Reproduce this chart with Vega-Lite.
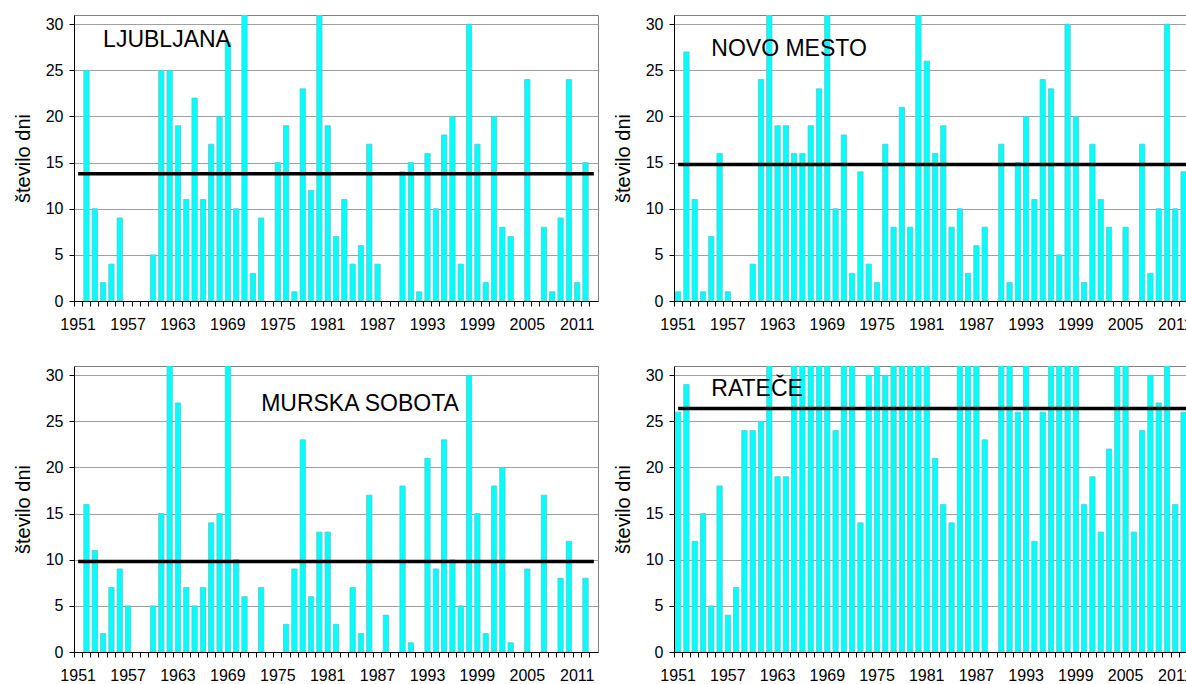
{
  "$schema": "https://vega.github.io/schema/vega-lite/v6.json",
  "usermeta": {"embedOptions": {"actions": false}},
  "background": "white",
  "padding": {"left": 12, "top": 14, "right": 0, "bottom": 0},
  "config": {
    "font": "Liberation Sans",
    "view": {"stroke": "#808080", "strokeWidth": 1},
    "axis": {
      "labelFont": "Liberation Sans", "labelFontSize": 16, "labelColor": "#000000",
      "titleFont": "Liberation Sans", "titleFontSize": 20, "titleFontWeight": "normal", "titleColor": "#000000",
      "domainColor": "#000000", "tickColor": "#000000", "tickSize": 5, "gridColor": "#a0a0a0"
    },
    "axisX": {"grid": false, "labelAngle": 0, "labelPadding": 10, "labelOverlap": false,
      "values": [1951,1954,1957,1960,1963,1966,1969,1972,1975,1978,1981,1984,1987,1990,1993,1996,1999,2002,2005,2008,2011],
      "labelExpr": "(datum.value - 1951) % 6 == 0 ? datum.label : ''", "bandPosition": -0.28},
    "axisY": {"grid": true, "values": [0,5,10,15,20,25,30], "labelPadding": 6, "titlePadding": 12}
  },
  "datasets": {
    "info": [
      {"station": "LJUBLJANA", "mean": 13.8, "start": 1951, "end": 2013, "lx": 1954, "ly": 27.56},
      {"station": "NOVO MESTO", "mean": 14.8, "start": 1951, "end": 2013, "lx": 1955, "ly": 26.55},
      {"station": "MURSKA SOBOTA", "mean": 9.8, "start": 1951, "end": 2013, "lx": 1973, "ly": 26.15},
      {"station": "RATEČE", "mean": 26.4, "start": 1951, "end": 2013, "lx": 1955, "ly": 27.7}
    ],
    "lj": [
      {"year":1952,"days":25},{"year":1953,"days":10},{"year":1954,"days":2},{"year":1955,"days":4},{"year":1956,"days":9},
      {"year":1960,"days":5},{"year":1961,"days":25},{"year":1962,"days":25},{"year":1963,"days":19},{"year":1964,"days":11},
      {"year":1965,"days":22},{"year":1966,"days":11},{"year":1967,"days":17},{"year":1968,"days":20},{"year":1969,"days":28},
      {"year":1970,"days":10},{"year":1971,"days":31},{"year":1972,"days":3},{"year":1973,"days":9},{"year":1975,"days":15},
      {"year":1976,"days":19},{"year":1977,"days":1},{"year":1978,"days":23},{"year":1979,"days":12},{"year":1980,"days":31},
      {"year":1981,"days":19},{"year":1982,"days":7},{"year":1983,"days":11},{"year":1984,"days":4},{"year":1985,"days":6},
      {"year":1986,"days":17},{"year":1987,"days":4},{"year":1990,"days":14},{"year":1991,"days":15},{"year":1992,"days":1},
      {"year":1993,"days":16},{"year":1994,"days":10},{"year":1995,"days":18},{"year":1996,"days":20},{"year":1997,"days":4},
      {"year":1998,"days":30},{"year":1999,"days":17},{"year":2000,"days":2},{"year":2001,"days":20},{"year":2002,"days":8},
      {"year":2003,"days":7},{"year":2005,"days":24},{"year":2007,"days":8},{"year":2008,"days":1},{"year":2009,"days":9},
      {"year":2010,"days":24},{"year":2011,"days":2},{"year":2012,"days":15}
    ],
    "nm": [
      {"year":1951,"days":1},{"year":1952,"days":27},{"year":1953,"days":11},{"year":1954,"days":1},{"year":1955,"days":7},
      {"year":1956,"days":16},{"year":1957,"days":1},{"year":1960,"days":4},{"year":1961,"days":24},{"year":1962,"days":31},
      {"year":1963,"days":19},{"year":1964,"days":19},{"year":1965,"days":16},{"year":1966,"days":16},{"year":1967,"days":19},
      {"year":1968,"days":23},{"year":1969,"days":31},{"year":1970,"days":10},{"year":1971,"days":18},{"year":1972,"days":3},
      {"year":1973,"days":14},{"year":1974,"days":4},{"year":1975,"days":2},{"year":1976,"days":17},{"year":1977,"days":8},
      {"year":1978,"days":21},{"year":1979,"days":8},{"year":1980,"days":31},{"year":1981,"days":26},{"year":1982,"days":16},
      {"year":1983,"days":19},{"year":1984,"days":8},{"year":1985,"days":10},{"year":1986,"days":3},{"year":1987,"days":6},
      {"year":1988,"days":8},{"year":1990,"days":17},{"year":1991,"days":2},{"year":1992,"days":15},{"year":1993,"days":20},
      {"year":1994,"days":11},{"year":1995,"days":24},{"year":1996,"days":23},{"year":1997,"days":5},{"year":1998,"days":30},
      {"year":1999,"days":20},{"year":2000,"days":2},{"year":2001,"days":17},{"year":2002,"days":11},{"year":2003,"days":8},
      {"year":2005,"days":8},{"year":2007,"days":17},{"year":2008,"days":3},{"year":2009,"days":10},{"year":2010,"days":30},
      {"year":2011,"days":10},{"year":2012,"days":14}
    ],
    "ms": [
      {"year":1952,"days":16},{"year":1953,"days":11},{"year":1954,"days":2},{"year":1955,"days":7},{"year":1956,"days":9},
      {"year":1957,"days":5},{"year":1960,"days":5},{"year":1961,"days":15},{"year":1962,"days":31},{"year":1963,"days":27},
      {"year":1964,"days":7},{"year":1965,"days":5},{"year":1966,"days":7},{"year":1967,"days":14},{"year":1968,"days":15},
      {"year":1969,"days":31},{"year":1970,"days":10},{"year":1971,"days":6},{"year":1973,"days":7},{"year":1976,"days":3},
      {"year":1977,"days":9},{"year":1978,"days":23},{"year":1979,"days":6},{"year":1980,"days":13},{"year":1981,"days":13},
      {"year":1982,"days":3},{"year":1984,"days":7},{"year":1985,"days":2},{"year":1986,"days":17},{"year":1988,"days":4},
      {"year":1990,"days":18},{"year":1991,"days":1},{"year":1993,"days":21},{"year":1994,"days":9},{"year":1995,"days":23},
      {"year":1996,"days":10},{"year":1997,"days":5},{"year":1998,"days":30},{"year":1999,"days":15},{"year":2000,"days":2},
      {"year":2001,"days":18},{"year":2002,"days":20},{"year":2003,"days":1},{"year":2005,"days":9},{"year":2007,"days":17},
      {"year":2009,"days":8},{"year":2010,"days":12},{"year":2012,"days":8}
    ],
    "ra": [
      {"year":1951,"days":26},{"year":1952,"days":29},{"year":1953,"days":12},{"year":1954,"days":15},{"year":1955,"days":5},
      {"year":1956,"days":18},{"year":1957,"days":4},{"year":1958,"days":7},{"year":1959,"days":24},{"year":1960,"days":24},
      {"year":1961,"days":25},{"year":1962,"days":31},{"year":1963,"days":19},{"year":1964,"days":19},{"year":1965,"days":31},
      {"year":1966,"days":31},{"year":1967,"days":31},{"year":1968,"days":31},{"year":1969,"days":31},{"year":1970,"days":24},
      {"year":1971,"days":31},{"year":1972,"days":31},{"year":1973,"days":14},{"year":1974,"days":30},{"year":1975,"days":31},
      {"year":1976,"days":30},{"year":1977,"days":31},{"year":1978,"days":31},{"year":1979,"days":31},{"year":1980,"days":31},
      {"year":1981,"days":31},{"year":1982,"days":21},{"year":1983,"days":16},{"year":1984,"days":14},{"year":1985,"days":31},
      {"year":1986,"days":31},{"year":1987,"days":31},{"year":1988,"days":23},{"year":1990,"days":31},{"year":1991,"days":31},
      {"year":1992,"days":26},{"year":1993,"days":31},{"year":1994,"days":12},{"year":1995,"days":26},{"year":1996,"days":31},
      {"year":1997,"days":31},{"year":1998,"days":31},{"year":1999,"days":31},{"year":2000,"days":16},{"year":2001,"days":19},
      {"year":2002,"days":13},{"year":2003,"days":22},{"year":2004,"days":31},{"year":2005,"days":31},{"year":2006,"days":13},
      {"year":2007,"days":24},{"year":2008,"days":30},{"year":2009,"days":27},{"year":2010,"days":31},{"year":2011,"days":16},
      {"year":2012,"days":26}
    ]
  },
  "columns": 2,
  "bounds": "flush",
  "spacing": {"row": 65, "column": 76},
  "concat": [
    {
      "width": 524, "height": 286,
      "layer": [
        {"data": {"name": "lj"},
         "mark": {"type": "bar", "fill": "#00FFFF", "stroke": "#5cc8c8", "strokeWidth": 0.8, "clip": true},
         "encoding": {
           "x": {"field": "year", "type": "ordinal", "title": null, "scale": {"domain": [1951,1952,1953,1954,1955,1956,1957,1958,1959,1960,1961,1962,1963,1964,1965,1966,1967,1968,1969,1970,1971,1972,1973,1974,1975,1976,1977,1978,1979,1980,1981,1982,1983,1984,1985,1986,1987,1988,1989,1990,1991,1992,1993,1994,1995,1996,1997,1998,1999,2000,2001,2002,2003,2004,2005,2006,2007,2008,2009,2010,2011,2012,2013], "paddingInner": 0.36, "paddingOuter": 0.18}},
           "y": {"field": "days", "type": "quantitative", "title": "število dni", "scale": {"domain": [0, 31], "nice": false}}
         }},
        {"data": {"name": "info"}, "transform": [{"filter": "datum.station == 'LJUBLJANA'"}],
         "mark": {"type": "rule", "color": "#000000", "strokeWidth": 3.5},
         "encoding": {"x": {"field": "start", "type": "ordinal"}, "x2": {"field": "end"}, "y": {"field": "mean", "type": "quantitative"}}},
        {"data": {"name": "info"}, "transform": [{"filter": "datum.station == 'LJUBLJANA'"}],
         "mark": {"type": "text", "align": "left", "baseline": "alphabetic", "fontSize": 23, "font": "Liberation Sans", "color": "#000000"},
         "encoding": {"x": {"field": "lx", "type": "ordinal"}, "y": {"field": "ly", "type": "quantitative"}, "text": {"field": "station"}}}
      ]
    },
    {
      "width": 522, "height": 286,
      "layer": [
        {"data": {"name": "nm"},
         "mark": {"type": "bar", "fill": "#00FFFF", "stroke": "#5cc8c8", "strokeWidth": 0.8, "clip": true},
         "encoding": {
           "x": {"field": "year", "type": "ordinal", "title": null, "scale": {"domain": [1951,1952,1953,1954,1955,1956,1957,1958,1959,1960,1961,1962,1963,1964,1965,1966,1967,1968,1969,1970,1971,1972,1973,1974,1975,1976,1977,1978,1979,1980,1981,1982,1983,1984,1985,1986,1987,1988,1989,1990,1991,1992,1993,1994,1995,1996,1997,1998,1999,2000,2001,2002,2003,2004,2005,2006,2007,2008,2009,2010,2011,2012,2013], "paddingInner": 0.36, "paddingOuter": 0.18}},
           "y": {"field": "days", "type": "quantitative", "title": "število dni", "scale": {"domain": [0, 31], "nice": false}}
         }},
        {"data": {"name": "info"}, "transform": [{"filter": "datum.station == 'NOVO MESTO'"}],
         "mark": {"type": "rule", "color": "#000000", "strokeWidth": 3.5},
         "encoding": {"x": {"field": "start", "type": "ordinal"}, "x2": {"field": "end"}, "y": {"field": "mean", "type": "quantitative"}}},
        {"data": {"name": "info"}, "transform": [{"filter": "datum.station == 'NOVO MESTO'"}],
         "mark": {"type": "text", "align": "left", "baseline": "alphabetic", "fontSize": 23, "font": "Liberation Sans", "color": "#000000"},
         "encoding": {"x": {"field": "lx", "type": "ordinal"}, "y": {"field": "ly", "type": "quantitative"}, "text": {"field": "station"}}}
      ]
    },
    {
      "width": 524, "height": 286,
      "layer": [
        {"data": {"name": "ms"},
         "mark": {"type": "bar", "fill": "#00FFFF", "stroke": "#5cc8c8", "strokeWidth": 0.8, "clip": true},
         "encoding": {
           "x": {"field": "year", "type": "ordinal", "title": null, "scale": {"domain": [1951,1952,1953,1954,1955,1956,1957,1958,1959,1960,1961,1962,1963,1964,1965,1966,1967,1968,1969,1970,1971,1972,1973,1974,1975,1976,1977,1978,1979,1980,1981,1982,1983,1984,1985,1986,1987,1988,1989,1990,1991,1992,1993,1994,1995,1996,1997,1998,1999,2000,2001,2002,2003,2004,2005,2006,2007,2008,2009,2010,2011,2012,2013], "paddingInner": 0.36, "paddingOuter": 0.18}},
           "y": {"field": "days", "type": "quantitative", "title": "število dni", "scale": {"domain": [0, 31], "nice": false}}
         }},
        {"data": {"name": "info"}, "transform": [{"filter": "datum.station == 'MURSKA SOBOTA'"}],
         "mark": {"type": "rule", "color": "#000000", "strokeWidth": 3.5},
         "encoding": {"x": {"field": "start", "type": "ordinal"}, "x2": {"field": "end"}, "y": {"field": "mean", "type": "quantitative"}}},
        {"data": {"name": "info"}, "transform": [{"filter": "datum.station == 'MURSKA SOBOTA'"}],
         "mark": {"type": "text", "align": "left", "baseline": "alphabetic", "fontSize": 23, "font": "Liberation Sans", "color": "#000000"},
         "encoding": {"x": {"field": "lx", "type": "ordinal"}, "y": {"field": "ly", "type": "quantitative"}, "text": {"field": "station"}}}
      ]
    },
    {
      "width": 522, "height": 286,
      "layer": [
        {"data": {"name": "ra"},
         "mark": {"type": "bar", "fill": "#00FFFF", "stroke": "#5cc8c8", "strokeWidth": 0.8, "clip": true},
         "encoding": {
           "x": {"field": "year", "type": "ordinal", "title": null, "scale": {"domain": [1951,1952,1953,1954,1955,1956,1957,1958,1959,1960,1961,1962,1963,1964,1965,1966,1967,1968,1969,1970,1971,1972,1973,1974,1975,1976,1977,1978,1979,1980,1981,1982,1983,1984,1985,1986,1987,1988,1989,1990,1991,1992,1993,1994,1995,1996,1997,1998,1999,2000,2001,2002,2003,2004,2005,2006,2007,2008,2009,2010,2011,2012,2013], "paddingInner": 0.36, "paddingOuter": 0.18}},
           "y": {"field": "days", "type": "quantitative", "title": "število dni", "scale": {"domain": [0, 31], "nice": false}}
         }},
        {"data": {"name": "info"}, "transform": [{"filter": "datum.station == 'RATEČE'"}],
         "mark": {"type": "rule", "color": "#000000", "strokeWidth": 3.5},
         "encoding": {"x": {"field": "start", "type": "ordinal"}, "x2": {"field": "end"}, "y": {"field": "mean", "type": "quantitative"}}},
        {"data": {"name": "info"}, "transform": [{"filter": "datum.station == 'RATEČE'"}],
         "mark": {"type": "text", "align": "left", "baseline": "alphabetic", "fontSize": 23, "font": "Liberation Sans", "color": "#000000"},
         "encoding": {"x": {"field": "lx", "type": "ordinal"}, "y": {"field": "ly", "type": "quantitative"}, "text": {"field": "station"}}}
      ]
    }
  ]
}
